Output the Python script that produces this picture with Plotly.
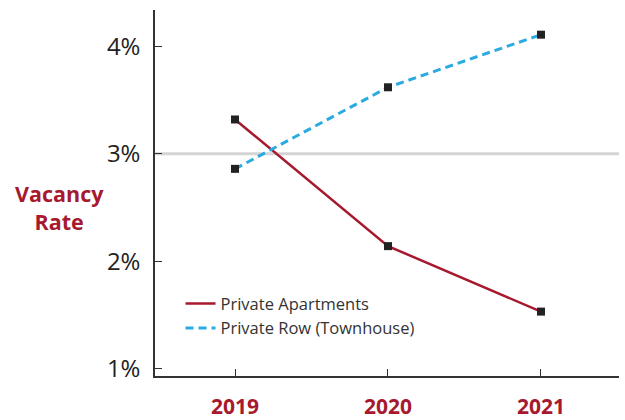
import plotly.graph_objects as go

years = [2019, 2020, 2021]
apartments = [3.32, 2.14, 1.53]
townhouse = [2.86, 3.62, 4.11]
y_ticks = [1, 2, 3, 4]
y_labels = ['1%', '2%', '3%', '4%']

red = '#a6192e'
blue = '#29abe2'
font = 'Open Sans, Noto Sans, sans-serif'

fig = go.Figure()

fig.add_hline(y=3, line=dict(color='#d4d4d4', width=3), layer='below')

fig.add_trace(go.Scatter(
    x=years, y=apartments, mode='lines', name='Private Apartments',
    line=dict(color=red, width=2.5)
))
fig.add_trace(go.Scatter(
    x=years, y=townhouse, mode='lines', name='Private Row (Townhouse)',
    line=dict(color=blue, width=3, dash='8px,5px')
))
# markers drawn separately so the legend shows plain lines
for vals in (apartments, townhouse):
    fig.add_trace(go.Scatter(
        x=years, y=vals, mode='markers', showlegend=False, hoverinfo='skip',
        marker=dict(symbol='square', size=8, color='#222222')
    ))

fig.update_layout(
    width=625, height=420,
    margin=dict(l=155, r=6, t=10, b=44),
    plot_bgcolor='white', paper_bgcolor='white',
    font=dict(family=font, color='#222222'),
    legend=dict(
        x=0.055, y=0.245, xanchor='left', yanchor='top',
        font=dict(size=16.5, color='#333333'),
        bgcolor='rgba(0,0,0,0)', tracegroupgap=0, itemwidth=30
    ),
    annotations=[dict(
        text='<b>Vacancy<br>Rate</b>', xref='paper', yref='paper',
        x=-0.206, y=0.46, xanchor='center', yanchor='middle', showarrow=False,
        font=dict(size=21.5, color=red, family=font), align='center'
    )]
)

fig.update_xaxes(
    range=[2018.477, 2021.51], automargin=False,
    tickvals=years + [2021.51], ticktext=[str(y) for y in years] + [''],
    showgrid=False, zeroline=False,
    showline=True, linecolor='#333333', linewidth=1.5,
    ticks='inside', ticklen=7, tickcolor='#333333', tickwidth=1.2,
    tickfont=dict(size=21, color=red, family=font, weight='bold'),
    ticklabelstandoff=11
)
fig.update_yaxes(
    range=[0.93, 4.34], automargin=False,
    tickvals=y_ticks, ticktext=y_labels,
    showgrid=False, zeroline=False,
    showline=True, linecolor='#333333', linewidth=1.5,
    ticks='inside', ticklen=7, tickcolor='#333333', tickwidth=1.2,
    tickfont=dict(size=24, color='#222222', family=font),
    ticklabelstandoff=8
)

# drop the browser's default body margin so the chart sits at the page corner
fig.write_html('out.html', config={'displayModeBar': False},
               post_script="document.body.style.margin='0';")
